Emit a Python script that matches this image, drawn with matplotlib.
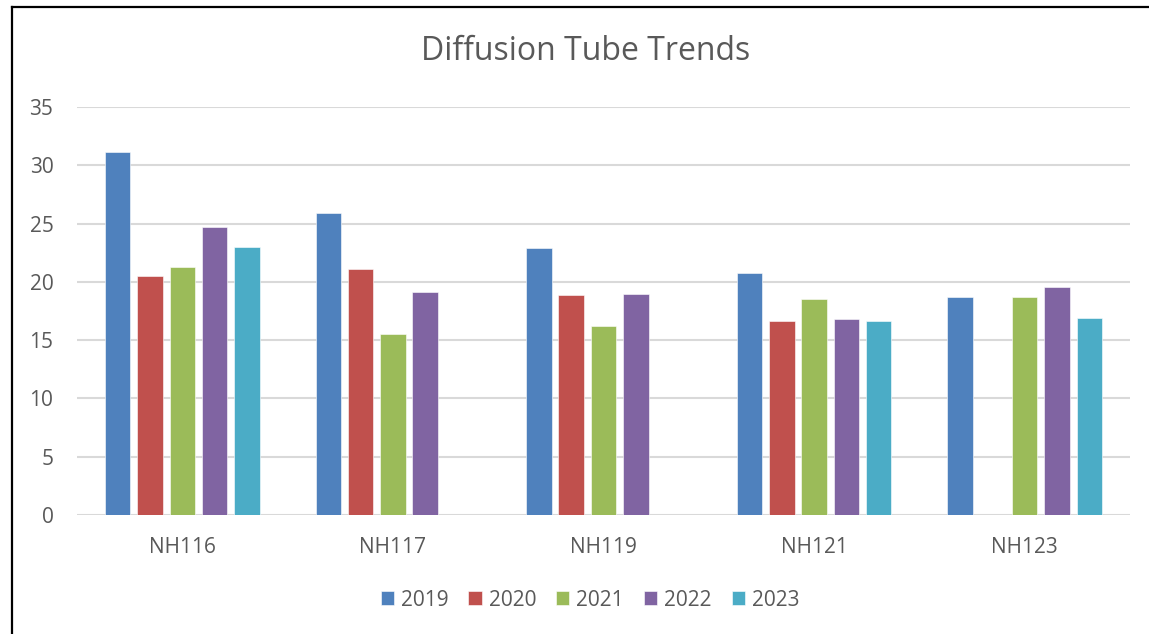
import matplotlib
matplotlib.use("Agg")
import matplotlib.pyplot as plt
import numpy as np
from matplotlib.lines import Line2D

sites = ["NH116", "NH117", "NH119", "NH121", "NH123"]
years = ["2019", "2020", "2021", "2022", "2023"]
v2019 = [31.1, 25.9, 22.9, 20.8, 18.7]
v2020 = [20.5, 21.1, 18.9, 16.6, np.nan]
v2021 = [21.3, 15.5, 16.2, 18.5, 18.7]
v2022 = [24.7, 19.1, 19.0, 16.8, 19.6]
v2023 = [23.0, np.nan, np.nan, 16.6, 16.9]
series = [v2019, v2020, v2021, v2022, v2023]
colors = ["#4F81BD", "#C0504D", "#9BBB59", "#8064A2", "#4BACC6"]

plt.rcParams['font.family'] = ['Open Sans', 'DejaVu Sans']
W, H = 1149, 634
fig = plt.figure(figsize=(W / 100, H / 100), dpi=100)
ax = fig.add_axes([77 / W, 1 - 515 / H, (1130 - 77) / W, (515 - 107) / H])

x = np.arange(len(sites))
step = 0.1535
width = 0.121
for i, (vals, c, yr) in enumerate(zip(series, colors, years)):
    ax.bar(x + (i - 2) * step, vals, width=width, color=c, label=yr,
           edgecolor="white", linewidth=0.4, zorder=3)

ax.set_xlim(-0.5, 4.5)
ax.set_ylim(0, 35)
ax.set_yticks(range(0, 36, 5))
ax.set_xticks(x)
ax.set_xticklabels(sites)
ax.grid(axis="y", color="#D9D9D9", linewidth=1.5, zorder=0)
for s in ax.spines.values():
    s.set_visible(False)
ax.tick_params(length=0, labelsize=15, colors="#595959")
ax.tick_params(axis="x", pad=16)
ax.tick_params(axis="y", pad=17)

fig.text(586 / W, 1 - 51 / H, "Diffusion Tube Trends", ha="center", va="center",
         fontsize=23, color="#595959")

leg = ax.legend(loc="center", bbox_to_anchor=(590 / W, 1 - 600 / H),
                bbox_transform=fig.transFigure, ncol=5, frameon=False,
                fontsize=15, handlelength=0.63, handleheight=0.63,
                handletextpad=0.34, columnspacing=0.96, labelcolor="#595959")

fig.add_artist(Line2D([12 / W, 1], [1 - 7 / H, 1 - 7 / H], color="black",
                      linewidth=1.6, transform=fig.transFigure))
fig.add_artist(Line2D([12 / W, 12 / W], [0, 1 - 7 / H], color="black",
                      linewidth=1.6, transform=fig.transFigure))

fig.savefig("out.png", dpi=100, facecolor="white")
